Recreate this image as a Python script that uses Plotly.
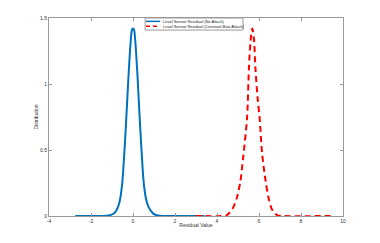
import plotly.graph_objects as go

# Blue: Level Sensor Residual (No Attack)
blue_x = [-2.75, -1.5, -1.3, -1.1, -0.95, -0.85, -0.75, -0.65, -0.58, -0.5, -0.42, -0.35,
          -0.28, -0.2, -0.12, -0.05, 0, 0.05, 0.12, 0.2, 0.28, 0.35, 0.42, 0.5, 0.58, 0.65,
          0.75, 0.85, 0.95, 1.1, 1.3, 1.5, 3.4]
blue_y = [0, 0, 0.002, 0.006, 0.015, 0.03, 0.055, 0.1, 0.16, 0.27, 0.46, 0.65,
          0.86, 1.1, 1.3, 1.41, 1.42, 1.41, 1.3, 1.1, 0.86, 0.65, 0.46, 0.27, 0.165, 0.11,
          0.065, 0.04, 0.02, 0.008, 0.002, 0, 0]

# Red: Level Sensor Residual (Constant Bias Attack)
red_x = [2.97, 4.2, 4.45, 4.6, 4.76, 4.95, 5.11, 5.25, 5.43, 5.52, 5.6, 5.68, 5.76, 5.83,
         5.93, 6.03, 6.15, 6.32, 6.45, 6.59, 6.75, 6.89, 7.2, 9.41]
red_y = [0, 0, 0.005, 0.025, 0.06, 0.14, 0.26, 0.45, 0.742, 1.12, 1.33, 1.42, 1.34, 1.12,
         0.9, 0.742, 0.47, 0.26, 0.14, 0.06, 0.02, 0.005, 0, 0]

x_ticks = [-4, -2, 0, 2, 4, 6, 8, 10]
y_ticks = [0, 0.5, 1, 1.5]
y_tick_labels = ["0", "0.5", "1", "1.5"]

series_names = ["Level Sensor Residual (No Attack)",
                "Level Sensor Residual (Constant Bias Attack)"]
series_colors = ["#0072BD", "#FF0000"]
series_dashes = ["solid", "6px,4px"]

FONT = "Liberation Sans"
GREY = "#9a9a9a"

fig = go.Figure()
fig.add_trace(go.Scatter(x=blue_x, y=blue_y, mode="lines", name=series_names[0],
                         line=dict(color=series_colors[0], width=2, shape="spline", smoothing=0.8)))
fig.add_trace(go.Scatter(x=red_x, y=red_y, mode="lines", name=series_names[1],
                         line=dict(color=series_colors[1], width=2, dash=series_dashes[1],
                                   shape="spline", smoothing=0.8)))

axis_common = dict(showline=True, linecolor=GREY, linewidth=1, mirror="allticks",
                   ticks="inside", ticklen=3, tickcolor=GREY, showgrid=False,
                   zeroline=False, automargin=False,
                   tickfont=dict(size=5, color="#333", family=FONT))

# page body has an 8px margin, so the figure is drawn 8px smaller and offset
fig.update_layout(
    width=372, height=235,
    margin=dict(l=41, r=37, t=10, b=27),
    paper_bgcolor="white", plot_bgcolor="white",
    font=dict(family=FONT, size=5, color="#333"),
    xaxis=dict(range=[-4, 10], tickvals=x_ticks, ticktext=[str(t) for t in x_ticks],
               title=dict(text="Residual Value", font=dict(size=5), standoff=0), **axis_common),
    yaxis=dict(range=[0, 1.5], tickvals=y_ticks, ticktext=y_tick_labels,
               title=dict(text="Distribution", font=dict(size=5), standoff=1), **axis_common),
    showlegend=False,
)

# Manual legend box (MATLAB-style, inside plot at top centre)
lx0, lx1, ly0, ly1 = 0.327, 0.660, 0.939, 1.0
fig.add_shape(type="rect", xref="paper", yref="paper", x0=lx0, x1=lx1, y0=ly0, y1=ly1,
              line=dict(color=GREY, width=1), fillcolor="white", layer="above")
row_y = [0.983, 0.958]
legend_dashes = ["solid", "4px,3px"]
for name, col, dash, ry in zip(series_names, series_colors, legend_dashes, row_y):
    fig.add_shape(type="line", xref="paper", yref="paper", x0=0.330, x1=0.378, y0=ry, y1=ry,
                  line=dict(color=col, width=1.5, dash=dash), layer="above")
    fig.add_annotation(xref="paper", yref="paper", x=0.381, y=ry, text=name, showarrow=False,
                       xanchor="left", yanchor="middle",
                       font=dict(size=4, color="#222", family=FONT))

fig.write_html("out.html")
